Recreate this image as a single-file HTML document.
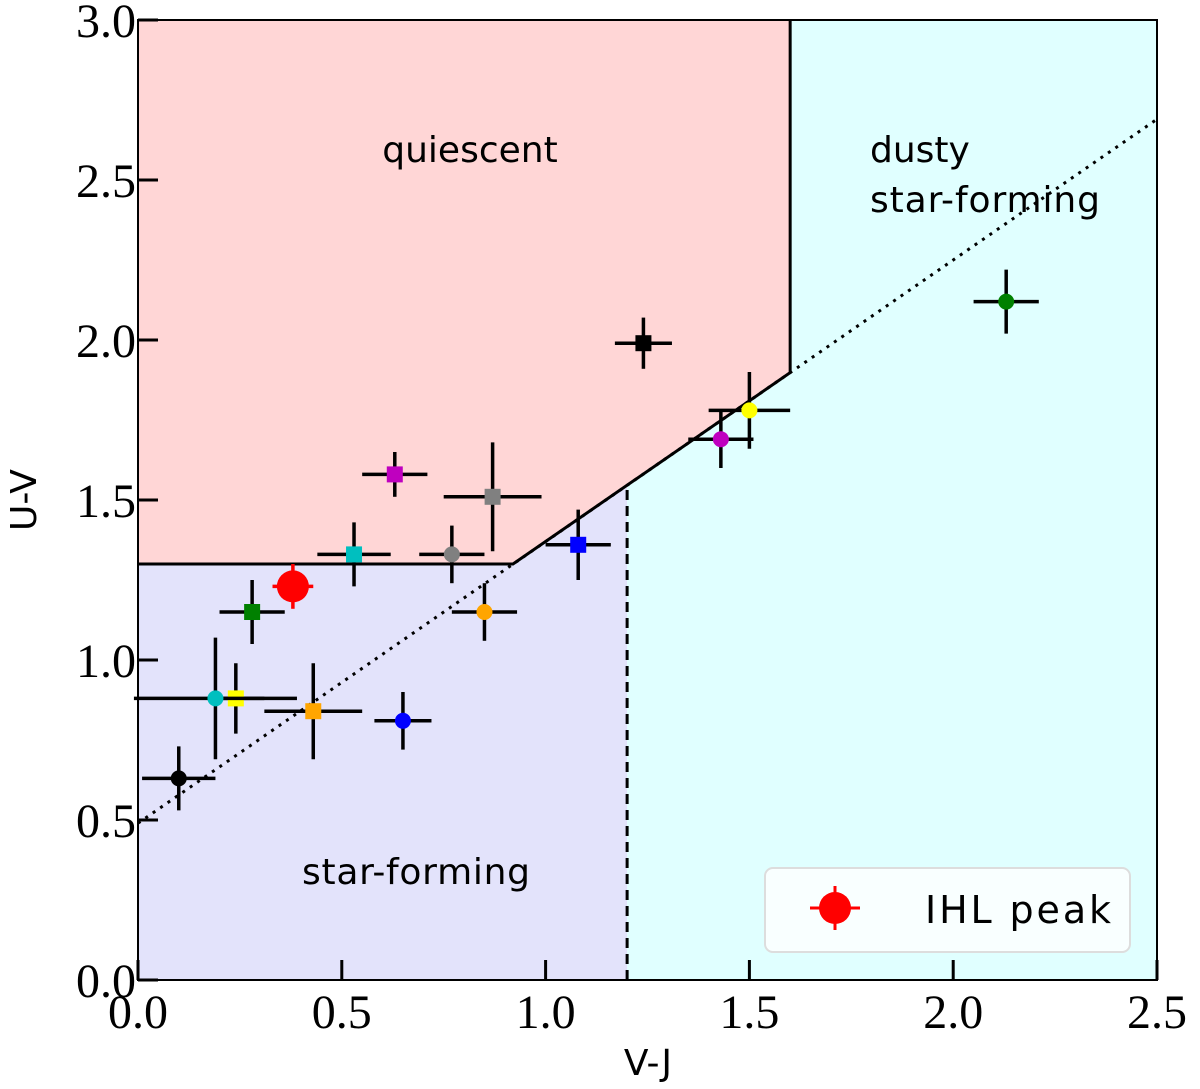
<!DOCTYPE html>
<html><head><meta charset="utf-8"><style>body{margin:0;background:#fff}svg{display:block}</style></head>
<body>
<svg id="chart" width="1200" height="1089" xmlns="http://www.w3.org/2000/svg">
<g id="regions"></g><g id="lines"></g><g id="points"></g><g id="axes"></g>
</svg>
<script>
const sqX=[1.24,0.63,0.87,0.53,1.08,0.28,0.24,0.43];
const sqY=[1.99,1.58,1.51,1.33,1.36,1.15,0.88,0.84];
const sqXe=[0.07,0.08,0.12,0.09,0.08,0.08,0.07,0.12];
const sqYe=[0.08,0.07,0.17,0.10,0.11,0.10,0.11,0.15];
const sqC=["black","#bf00bf","gray","#00bfbf","blue","green","yellow","orange"];
const ciX=[2.13,1.50,1.43,0.77,0.85,0.19,0.65,0.10];
const ciY=[2.12,1.78,1.69,1.33,1.15,0.88,0.81,0.63];
const ciXe=[0.08,0.10,0.08,0.08,0.08,0.20,0.07,0.09];
const ciYe=[0.10,0.12,0.09,0.09,0.09,0.19,0.09,0.10];
const ciC=["green","yellow","#bf00bf","gray","orange","#00bfbf","blue","black"];
const ihl=[0.38,1.23,0.05,0.07];
const xTicks=[0,0.5,1.0,1.5,2.0,2.5];
const yTicks=[0,0.5,1.0,1.5,2.0,2.5,3.0];
const X=v=>138+v*407.6, Y=v=>980-v*320;
const NS="http://www.w3.org/2000/svg";
function mk(p,t,a){const e=document.createElementNS(NS,t);for(const k in a)e.setAttribute(k,a[k]);document.getElementById(p).appendChild(e);return e;}
const b=x=>0.88*x+0.49;
let r;
r=mk("regions","polygon",{points:`${X(0)},${Y(3)} ${X(1.6)},${Y(3)} ${X(1.6)},${Y(b(1.6))} ${X(0.92)},${Y(1.3)} ${X(0)},${Y(1.3)}`,fill:"#ffd6d6"});

r=mk("regions","polygon",{points:`${X(0)},${Y(0)} ${X(1.2)},${Y(0)} ${X(1.2)},${Y(b(1.2))} ${X(0.92)},${Y(1.3)} ${X(0)},${Y(1.3)}`,fill:"#e3e3fb"});

r=mk("regions","polygon",{points:`${X(1.2)},${Y(0)} ${X(2.5)},${Y(0)} ${X(2.5)},${Y(3)} ${X(1.6)},${Y(3)} ${X(1.6)},${Y(b(1.6))} ${X(1.2)},${Y(b(1.2))}`,fill:"#e0ffff"});

r=mk("lines","line",{x1:X(0),y1:Y(b(0)),x2:X(2.5),y2:Y(b(2.5)),stroke:"#000","stroke-width":3,"stroke-dasharray":"3,6"});

r=mk("lines","polyline",{points:`${X(0)},${Y(1.3)} ${X(0.92)},${Y(1.3)} ${X(1.6)},${Y(b(1.6))} ${X(1.6)},${Y(3)}`,fill:"none",stroke:"#000","stroke-width":3});

r=mk("lines","line",{x1:X(1.2),y1:Y(0),x2:X(1.2),y2:Y(b(1.2)),stroke:"#000","stroke-width":3,"stroke-dasharray":"10,6"});

function err(x,y,xe,ye,c){
 mk("points","line",{x1:X(x-xe),y1:Y(y),x2:X(x+xe),y2:Y(y),stroke:c,"stroke-width":3.5});
 mk("points","line",{x1:X(x),y1:Y(y-ye),x2:X(x),y2:Y(y+ye),stroke:c,"stroke-width":3.5});
}
for(let i=0;i<sqX.length;i++){err(sqX[i],sqY[i],sqXe[i],sqYe[i],"#000");
 const e=mk("points","rect",{x:X(sqX[i])-8,y:Y(sqY[i])-8,width:16,height:16,fill:sqC[i]});
 }
for(let i=0;i<ciX.length;i++){err(ciX[i],ciY[i],ciXe[i],ciYe[i],"#000");
 const e=mk("points","circle",{cx:X(ciX[i]),cy:Y(ciY[i]),r:8,fill:ciC[i]});
 }
err(ihl[0],ihl[1],ihl[2],ihl[3],"red");
r=mk("points","circle",{cx:X(ihl[0]),cy:Y(ihl[1]),r:16,fill:"red"});

r=mk("axes","rect",{x:X(0),y:Y(3),width:X(2.5)-X(0),height:Y(0)-Y(3),fill:"none",stroke:"#000","stroke-width":2});

xTicks.forEach(t=>{mk("axes","line",{x1:X(t),y1:Y(0),x2:X(t),y2:Y(0)-20,stroke:"#000","stroke-width":3});
 const e=mk("axes","text",{x:X(t),y:1028,"text-anchor":"middle","font-family":"Liberation Serif, serif","font-size":48});e.textContent=t.toFixed(1);
 });
yTicks.forEach(t=>{mk("axes","line",{x1:X(0),y1:Y(t),x2:X(0)+20,y2:Y(t),stroke:"#000","stroke-width":3});
 const e=mk("axes","text",{x:136,y:Y(t)+17,"text-anchor":"end","font-family":"Liberation Serif, serif","font-size":48});e.textContent=t.toFixed(1);
 });
function txt(x,y,s,n,a){const e=mk("axes","text",Object.assign({x:x,y:y,"font-family":"DejaVu Sans, sans-serif","font-size":36},a||{}));e.textContent=s;
 return e;}
txt(648,1075,"V-J","x-axis-title",{"text-anchor":"middle"});
txt(36,500,"U-V","y-axis-title",{"text-anchor":"middle",transform:"rotate(-90 36 500)"});
txt(470,162,"quiescent","quiescent-label",{"text-anchor":"middle"});
txt(870,162,"dusty","dusty-label-1");
txt(870,212,"star-forming","dusty-label-2",{"textLength":230});
txt(416,884,"star-forming","star-forming-label",{"text-anchor":"middle","textLength":228});
r=mk("axes","rect",{x:765,y:868,width:365,height:84,rx:8,fill:"#fff","fill-opacity":0.8,stroke:"#ddd","stroke-width":2});

mk("axes","line",{x1:810,y1:908,x2:860,y2:908,stroke:"red","stroke-width":3});
mk("axes","line",{x1:835,y1:886,x2:835,y2:930,stroke:"red","stroke-width":3});
r=mk("axes","circle",{cx:835,cy:908,r:16,fill:"red"});

txt(925,923,"IHL peak","legend-label",{"font-size":38,"textLength":186});
</script>
</body></html>
